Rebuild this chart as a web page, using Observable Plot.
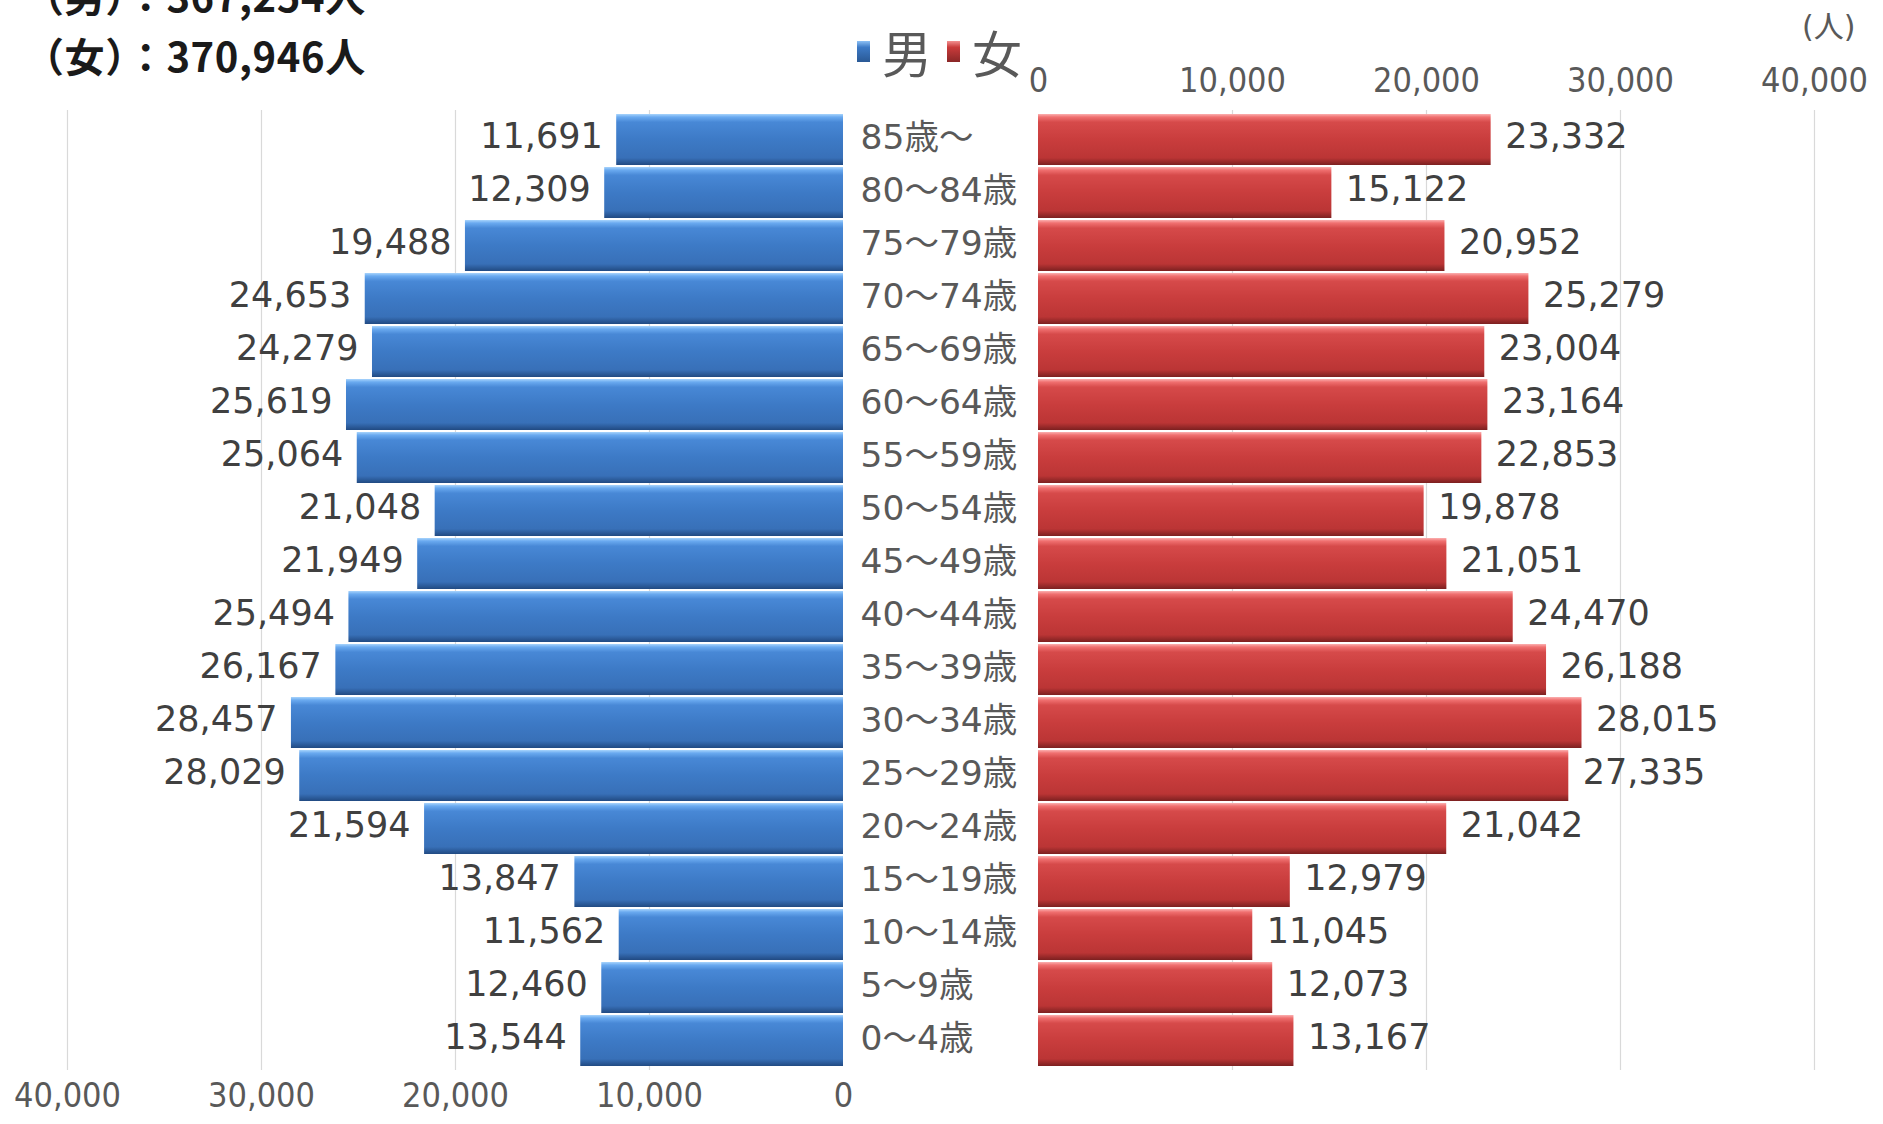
<!DOCTYPE html>
<html><head><meta charset="utf-8">
<script src="https://cdn.jsdelivr.net/npm/d3@7"></script>
<script src="https://cdn.jsdelivr.net/npm/@observablehq/plot@0.6"></script>
<style>
html,body{margin:0;padding:0;background:#fff;}
#wrap{position:relative;width:1883px;height:1124px;overflow:hidden;background:#fff;}
#wrap svg{position:absolute;left:0;top:0;}
.title{position:absolute;left:24px;font-family:"Noto Sans CJK JP";font-weight:bold;font-size:40px;letter-spacing:0.6px;color:#1a1a1a;white-space:nowrap;line-height:1;}
.legend{position:absolute;left:857px;top:26px;font-family:"Noto Sans CJK JP";font-size:50px;color:#595959;white-space:nowrap;line-height:1;display:flex;align-items:center;}
.sw{display:block;flex:0 0 auto;width:13px;height:21px;margin-right:12px;}
.unit{position:absolute;left:1802px;top:12px;font-family:"DejaVu Sans","Noto Sans CJK JP";font-size:30px;color:#595959;white-space:nowrap;line-height:1;}
</style></head>
<body>
<div id="wrap">
  <div class="title" style="top:-25px">（男）：367,254人</div>
  <div class="title" style="top:35px">（女）：370,946人</div>
  <div class="legend"><span class="sw" style="background:linear-gradient(#8cc0f5,#3d7ac6 30%,#2a5995)"></span>男<span class="sw" style="margin-left:15px;background:linear-gradient(#f29090,#c93b3b 30%,#8a2727)"></span>女</div>
  <div class="unit">(人)</div>
</div>
<script>
const ages = ["85歳～","80～84歳","75～79歳","70～74歳","65～69歳","60～64歳","55～59歳","50～54歳","45～49歳","40～44歳","35～39歳","30～34歳","25～29歳","20～24歳","15～19歳","10～14歳","5～9歳","0～4歳"];
const male = [11691,12309,19488,24653,24279,25619,25064,21048,21949,25494,26167,28457,28029,21594,13847,11562,12460,13544];
const female = [23332,15122,20952,25279,23004,23164,22853,19878,21051,24470,26188,28015,27335,21042,12979,11045,12073,13167];
const ticks = [0,10000,20000,30000,40000];

const rows = ages.map((a,i)=>({age:a, male:male[i], female:female[i]}));
const fmt = d3.format(",");
const NS = "http://www.w3.org/2000/svg";
function defs(id, stops){
  return () => {
    const g = document.createElementNS(NS,"defs");
    const lg = document.createElementNS(NS,"linearGradient");
    lg.setAttribute("id",id); lg.setAttribute("x1","0"); lg.setAttribute("y1","0"); lg.setAttribute("x2","0"); lg.setAttribute("y2","1");
    for (const [o,c] of stops){ const s=document.createElementNS(NS,"stop"); s.setAttribute("offset",o); s.setAttribute("stop-color",c); lg.appendChild(s); }
    g.appendChild(lg); return g;
  };
}
const blueStops = [[0,"#a8d4fc"],[0.06,"#6aaaf0"],[0.16,"#4888d6"],[0.5,"#3d7ac6"],[0.86,"#3870b8"],[1,"#214a82"]];
const redStops = [[0,"#fbb0b0"],[0.06,"#f07070"],[0.16,"#d64a4a"],[0.5,"#c93d3d"],[0.86,"#bb3535"],[1,"#7c2020"]];

const common = {
  width:1883, height:1124, marginTop:110, marginBottom:54,
  style:{background:"transparent", maxWidth:"none", overflow:"visible"},
  y:{domain:ages, padding:0.03, axis:null}
};
const font = "DejaVu Sans, Noto Sans CJK JP";

const left = Plot.plot({
  ...common,
  marginLeft:67, marginRight:1883-843,
  x:{domain:[40000,0]},
  marks:[
    defs("gBlue", blueStops),
    Plot.gridX(ticks.slice(1), {stroke:"#d9d9d9", strokeOpacity:1, strokeWidth:1.2}),
    Plot.barX(rows, {y:"age", x1:0, x2:"male", fill:"url(#gBlue)"}),
    Plot.text(rows, {y:"age", x:"male", text:d=>fmt(d.male), textAnchor:"end", dx:-14, dy:-3, fontSize:35, fill:"#404040", fontFamily:font}),
    Plot.text(rows, {y:"age", x:0, text:"age", textAnchor:"start", dx:17, dy:-2, fontSize:34.5, fill:"#595959", fontFamily:font}),
    Plot.axisX({anchor:"bottom", ticks, tickFormat:fmt, tickSize:0, tickPadding:12, fontSize:34, fontFamily:"DejaVu Sans Condensed", color:"#595959", label:null})
  ]
});

const right = Plot.plot({
  ...common,
  marginLeft:1038, marginRight:1883-1814,
  x:{domain:[0,40000]},
  marks:[
    defs("gRed", redStops),
    Plot.gridX(ticks.slice(1), {stroke:"#d9d9d9", strokeOpacity:1, strokeWidth:1.2}),
    Plot.barX(rows, {y:"age", x1:0, x2:"female", fill:"url(#gRed)"}),
    Plot.text(rows, {y:"age", x:"female", text:d=>fmt(d.female), textAnchor:"start", dx:14, dy:-3, fontSize:35, fill:"#404040", fontFamily:font}),
    Plot.axisX({anchor:"top", ticks, tickFormat:fmt, tickSize:0, tickPadding:19, fontSize:34, fontFamily:"DejaVu Sans Condensed", color:"#595959", label:null})
  ]
});

const wrap = document.getElementById("wrap");
wrap.prepend(right);
wrap.prepend(left);
</script>
</body></html>
